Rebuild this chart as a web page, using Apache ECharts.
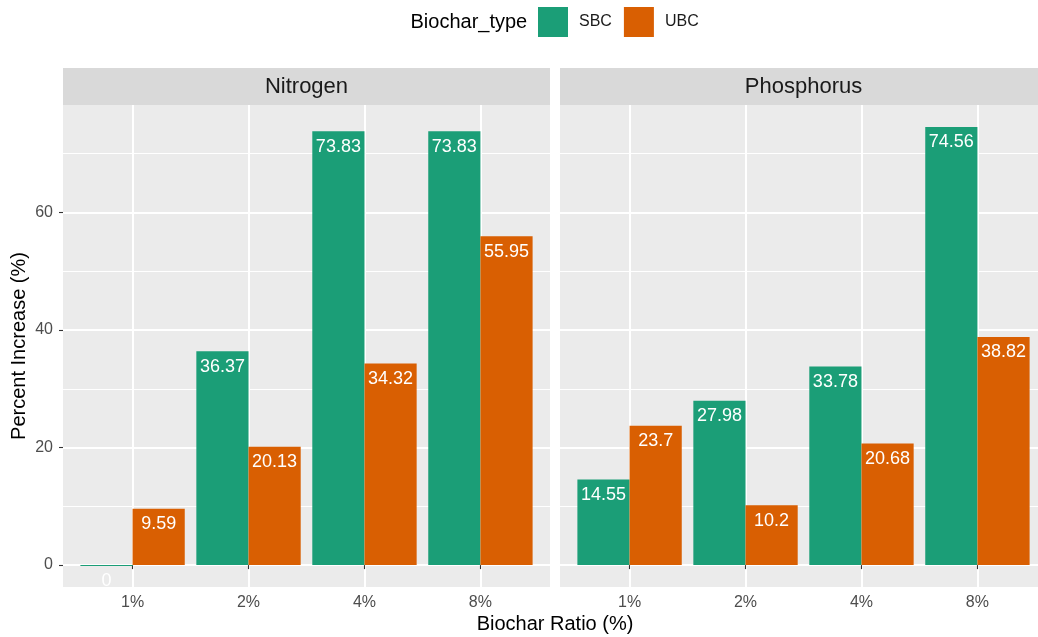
<!DOCTYPE html>
<html>
<head>
<meta charset="utf-8">
<script src="https://cdn.jsdelivr.net/npm/echarts@6/dist/echarts.min.js"></script>
<style>html,body{margin:0;padding:0;background:#fff;}#main{width:1038px;height:637px;}</style>
</head>
<body>
<div id="main"></div>
<script>
// ---- data ----
const categories = ['1%', '2%', '4%', '8%'];
const facets = ['Nitrogen', 'Phosphorus'];
const seriesNames = ['SBC', 'UBC'];
const nitrogenSBC = [0, 36.37, 73.83, 73.83];
const nitrogenUBC = [9.59, 20.13, 34.32, 55.95];
const phosphorusSBC = [14.55, 27.98, 33.78, 74.56];
const phosphorusUBC = [23.7, 10.2, 20.68, 38.82];
const yTicks = [0, 20, 40, 60];
const yMinorTicks = [10, 30, 50, 70];

// ---- layout ----
const FONT = 'Liberation Sans';
const CW = 1038;
const colors = {SBC: '#1B9E77', UBC: '#D95F02'};
const panelTop = 105, panelH = 482, panelW = 487;
const panelLeft = [63, 560];
const stripTop = 68, stripH = 37;

const allVals = [].concat(nitrogenSBC, nitrogenUBC, phosphorusSBC, phosphorusUBC);
const dMax = Math.max.apply(null, allVals), dMin = Math.min(0, Math.min.apply(null, allVals));
const yLo = dMin - 0.05 * (dMax - dMin), yHi = dMax + 0.05 * (dMax - dMin);
const xLo = 1 - 0.6, xHiFull = categories.length + 0.6;
const unitPx = panelW / (xHiFull - xLo);
const barW = 0.45 * unitPx;
// visible width of each panel (the right panel is cut by the canvas edge)
const visW = panelLeft.map(l => Math.min(panelW, CW - l));
const xHi = visW.map(w => xLo + w / unitPx);

const panelData = [[nitrogenSBC, nitrogenUBC], [phosphorusSBC, phosphorusUBC]];

const grids = panelLeft.map((l, i) => ({left: l, top: panelTop, width: visW[i], height: panelH, show: true, backgroundColor: '#EBEBEB', borderWidth: 0}));

const xAxes = [0, 1].map(i => ({
  type: 'value', gridIndex: i, min: xLo, max: xHi[i],
  axisLine: {show: false},
  axisTick: {show: true, length: 4, customValues: categories.map((c, k) => k + 1), lineStyle: {color: '#333333', width: 1.1}},
  axisLabel: {show: true, customValues: categories.map((c, k) => k + 1), margin: 7.5, fontSize: 16, fontFamily: FONT, color: '#4D4D4D',
    formatter: v => categories[Math.round(v) - 1] || ''},
  splitLine: {show: true, lineStyle: {color: '#FFFFFF', width: 2}}
}));

const yAxes = [];
[0, 1].forEach(i => {
  yAxes.push({
    type: 'value', gridIndex: i, min: yLo, max: yHi,
    axisLine: {show: false},
    axisTick: {show: i === 0, length: 4, customValues: yTicks, lineStyle: {color: '#333333', width: 1.1}},
    axisLabel: {show: i === 0, customValues: yTicks, margin: 10, fontSize: 16, fontFamily: FONT, color: '#4D4D4D'},
    splitLine: {show: true, lineStyle: {color: '#FFFFFF', width: 2}},
    name: i === 0 ? 'Percent Increase (%)' : '',
    nameLocation: 'middle', nameRotate: 90, nameGap: 34,
    nameTextStyle: {fontSize: 20, fontFamily: FONT, color: '#000000'}
  });
});
[0, 1].forEach(i => {
  yAxes.push({
    type: 'value', gridIndex: i, min: yLo, max: yHi, position: 'right',
    axisLine: {show: false},
    axisTick: {show: false, customValues: yMinorTicks},
    axisLabel: {show: false, customValues: yMinorTicks},
    splitLine: {show: true, lineStyle: {color: '#FFFFFF', width: 1}}
  });
});

const series = [];
[0, 1].forEach(p => {
  seriesNames.forEach((s, si) => {
    series.push({
      name: s, type: 'bar', xAxisIndex: p, yAxisIndex: p,
      barWidth: barW, barGap: '0%', barMinHeight: 1, z: 3,
      itemStyle: {color: colors[s]},
      data: panelData[p][si].map((v, k) => [k + 1, v]),
      label: {show: true, position: 'insideTop', distance: 6.5, color: '#FFFFFF', fontSize: 18, fontFamily: FONT,
        formatter: prm => String(prm.value[1])},
      emphasis: {disabled: true}
    });
  });
});

const graphics = [];
facets.forEach((f, i) => {
  graphics.push({type: 'rect', left: panelLeft[i], top: stripTop, shape: {width: visW[i], height: stripH}, style: {fill: '#D9D9D9'}, silent: true});
  graphics.push({type: 'text', x: panelLeft[i] + panelW / 2, y: stripTop + stripH / 2,
    style: {text: f, fontSize: 22, fontFamily: FONT, fill: '#1A1A1A', textAlign: 'center', textVerticalAlign: 'middle'}});
});
graphics.push({type: 'text', x: (panelLeft[0] + panelLeft[1] + panelW) / 2, y: 624,
  style: {text: 'Biochar Ratio (%)', fontSize: 20, fontFamily: FONT, fill: '#000000', textAlign: 'center', textVerticalAlign: 'middle'}});
graphics.push({type: 'text', x: 410.5, y: 22,
  style: {text: 'Biochar_type', fontSize: 20, fontFamily: FONT, fill: '#000000', textAlign: 'left', textVerticalAlign: 'middle'}});

const chart = echarts.init(document.getElementById('main'), null, {renderer: 'canvas'});
chart.setOption({
  animation: false,
  backgroundColor: '#FFFFFF',
  grid: grids,
  xAxis: xAxes,
  yAxis: yAxes,
  legend: {
    data: seriesNames, left: 538, top: 7, padding: 0, orient: 'horizontal',
    itemWidth: 30, itemHeight: 30, itemGap: 12, icon: 'rect',
    selectedMode: false,
    textStyle: {fontSize: 16, fontFamily: FONT, color: '#1A1A1A', padding: [0, 0, 0, 6]}
  },
  graphic: graphics,
  series: series
});
</script>
</body>
</html>
